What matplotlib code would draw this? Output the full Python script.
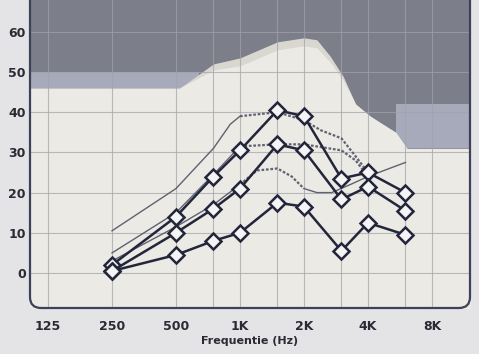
import matplotlib
matplotlib.use("Agg")
import matplotlib.pyplot as plt
from matplotlib.patches import FancyBboxPatch
import numpy as np

# ---- data ----
freqs = [250, 500, 750, 1000, 1500, 2000, 3000, 4000, 6000]
s1 = [2, 14, 24, 30.5, 40.5, 39, 23.5, 25, 20]
s2 = [0.5, 10, 16, 21, 32, 30.5, 18.3, 21.5, 15.5]
s3 = [0.5, 4.5, 8, 10, 17.5, 16.5, 5.5, 12.5, 9.5]

t1_f = [250, 500, 750, 900, 1000, 1500, 2000, 2400, 3000, 3500, 4000]
t1 = [10.5, 21, 31, 37, 39, 40, 38, 35.5, 33.5, 29, 25]
t2_f = [250, 500, 750, 1000, 1500, 2000, 3000, 3500, 4000]
t2 = [5, 15, 24.5, 31.5, 32, 32, 30.5, 28, 24]
t3_f = [250, 500, 750, 1000, 1200, 1500, 1750, 2000, 2300, 2700, 3300, 4000, 6000]
t3 = [3, 11.5, 17, 22, 25.5, 26, 24, 21, 20, 20, 22, 24, 27.5]

# background area boundaries
area_f = [90, 520, 750, 1000, 1500, 2000, 2300, 2650, 3050, 3500, 4100, 4700, 5400, 6100, 14000]
area_top = [46, 46, 52, 53.5, 57.5, 58.5, 58, 54, 49, 42, 39, 37, 35, 31, 31]
area_inner = [46, 46, 50.5, 51.5, 55.5, 56.5, 56, 52.5, 48, 42, 39, 37, 35, 31, 31]
band_left_f = [90, 640]
band_left = [46, 50]
band_right_f = [5400, 14000]
band_right = [31, 42]

xticks = [125, 250, 500, 1000, 2000, 4000, 8000]
xticklabels = ["125", "250", "500", "1K", "2K", "4K", "8K"]
xminor = [750, 1500, 3000, 6000]
yticks = [0, 10, 20, 30, 40, 50, 60]

# ---- style ----
dark = "#7c7e89"
band = "#a7aaba"
cream = "#ebeae5"
beige = "#d9d7d0"
navy = "#23263a"
thin = "#5f6270"
fam = ["Liberation Sans Narrow", "DejaVu Sans"]

fig = plt.figure(figsize=(4.79, 3.54), dpi=100)
fig.patch.set_facecolor("#e4e4e6")
ax = fig.add_axes([30/479, 46/354, 440/479, 308/354])
ax.set_xscale("log", base=2)
xl = (125 * 2 ** (-18/64), 8000 * 2 ** (38/64))
ax.set_xlim(*xl)
ax.set_ylim(-8.7, 67.9)
ax.set_facecolor(dark)

ax.fill_between(band_left_f, band_left[0], band_left[1], color=band, lw=0, zorder=0.5)
ax.fill_between(band_right_f, band_right[0], band_right[1], color=band, lw=0, zorder=0.5)
ax.fill_between(area_f, -20, area_top, color=beige, lw=0, zorder=0.6)
ax.fill_between(area_f, -20, area_inner, color=cream, lw=0, zorder=0.7)

# grid
for f in xticks + xminor:
    ax.axvline(f, color="#a2a2aa", lw=0.8, alpha=0.7, zorder=0.8)
for y in yticks:
    ax.axhline(y, color="#a2a2aa", lw=0.8, alpha=0.7, zorder=0.8)

# thin lines: solid part and dotted part
def thin_line(fx, vals, solid_ranges, dotted_ranges):
    for a, b in solid_ranges:
        ax.plot(fx[a:b+1], vals[a:b+1], color=thin, lw=1.0, zorder=2)
    for a, b in dotted_ranges:
        ax.plot(fx[a:b+1], vals[a:b+1], color=thin, lw=1.6, ls=(0, (1.2, 0.8)), zorder=2)

thin_line(t1_f, t1, [(0, 4)], [(4, 10)])
thin_line(t2_f, t2, [(0, 3)], [(3, 8)])
thin_line(t3_f, t3, [(0, 3), (7, 12)], [(3, 7)])

for s in (s1, s2, s3):
    ax.plot(freqs, s, color=navy, lw=1.8, marker="D", markersize=8.5,
            markerfacecolor="#f4f4f4", markeredgecolor=navy, markeredgewidth=1.8, zorder=3)

# frame with rounded bottom corners
for sp in ax.spines.values():
    sp.set_visible(False)
frame = FancyBboxPatch((0, 0), 1, 1.3, transform=ax.transAxes,
                       boxstyle="round,pad=0,rounding_size=0.025",
                       mutation_aspect=440/308, fill=False,
                       edgecolor="#3d4159", lw=1.6, clip_on=False, zorder=5)
ax.add_patch(frame)

ax.set_xticks(xticks)
ax.set_xticklabels(xticklabels)
ax.set_xticks([], minor=True)
ax.set_yticks(yticks)
ax.tick_params(length=0, labelsize=9, colors="#2a2a35")
ax.tick_params(axis="x", pad=9)
ax.tick_params(axis="y", pad=3)
for lab in ax.get_xticklabels() + ax.get_yticklabels():
    lab.set_family(fam)
    lab.set_fontweight("bold")
ax.set_xlabel("Frequentie (Hz)", fontsize=8, family=fam, fontweight="bold",
              color="#2a2a35", labelpad=2)

fig.savefig("out.png", dpi=100, facecolor=fig.get_facecolor())
